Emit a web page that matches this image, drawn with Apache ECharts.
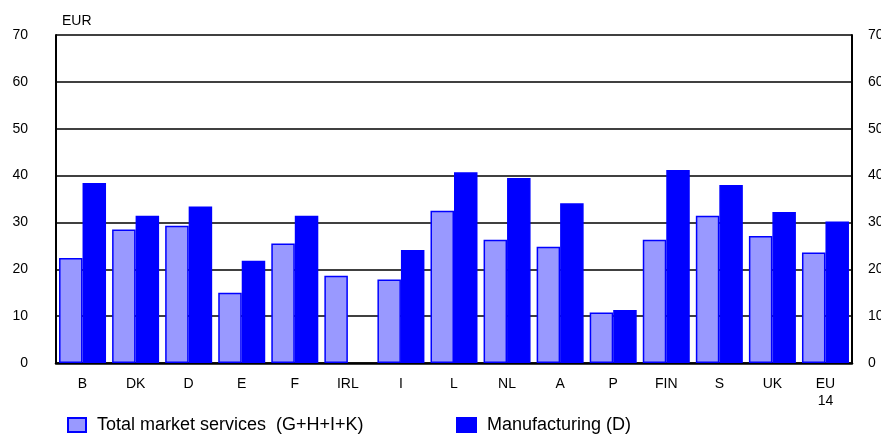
<!DOCTYPE html>
<html>
<head>
<meta charset="utf-8">
<script src="https://cdn.jsdelivr.net/npm/echarts@6/dist/echarts.min.js"></script>
<style>
  html, body { margin: 0; padding: 0; background: #fff; }
  #chart { width: 881px; height: 435px; }
</style>
</head>
<body>
<div id="chart"></div>
<script>
// Countries along the x axis
const countries = ['B', 'DK', 'D', 'E', 'F', 'IRL', 'I', 'L', 'NL', 'A', 'P', 'FIN', 'S', 'UK', 'EU\n14'];
// Labour cost per hour, EUR
const services = [22.4, 28.5, 29.3, 15.0, 25.5, 18.6, 17.8, 32.5, 26.3, 24.8, 10.8, 26.3, 31.4, 27.1, 23.6];
const manufacturing = [38.4, 31.4, 33.4, 21.8, 31.4, null, 24.1, 40.7, 39.5, 34.1, 11.3, 41.2, 38.0, 32.2, 30.2];
// Value axis ticks
const yTicks = [0, 10, 20, 30, 40, 50, 60, 70];

const seriesNames = ['Total market services  (G+H+I+K)', 'Manufacturing (D)'];
const font = 'Liberation Sans, Arial, sans-serif';

const chart = echarts.init(document.getElementById('chart'), null, { renderer: 'canvas' });

const valueAxis = (pos) => ({
  type: 'value',
  position: pos,
  min: yTicks[0],
  max: yTicks[yTicks.length - 1],
  interval: 10,
  axisLine: { show: true, lineStyle: { color: '#000', width: 2 } },
  axisTick: { show: false },
  axisLabel: {
    color: '#000', fontFamily: font, fontSize: 14,
    margin: pos === 'left' ? 28 : 16,
    align: pos === 'left' ? 'right' : 'left'
  },
  splitLine: { show: pos === 'left', lineStyle: { color: '#000', width: 1.5 } }
});

const legendText = { fontFamily: font, fontSize: 18, color: '#000', padding: [0, 0, 0, 6] };

chart.setOption({
  animation: false,
  backgroundColor: '#fff',
  // fixed plot rectangle; the right-hand tick labels are allowed to run off the edge
  grid: { left: 56, right: 29, top: 35, bottom: 72, outerBoundsMode: 'none', containLabel: false },
  title: {
    text: 'EUR', left: 57, top: 9,
    textStyle: { fontFamily: font, fontSize: 14, fontWeight: 'normal', color: '#000' }
  },
  legend: [
    {
      data: [{ name: seriesNames[0], icon: 'rect' }], left: 62, top: 411,
      itemWidth: 18, itemHeight: 14, itemGap: 0, textStyle: legendText
    },
    {
      data: [{ name: seriesNames[1], icon: 'rect' }], left: 451, top: 411,
      itemWidth: 19, itemHeight: 14, itemGap: 0, textStyle: legendText
    }
  ],
  xAxis: {
    type: 'category',
    data: countries,
    axisLine: { show: true, lineStyle: { color: '#000', width: 2.5 } },
    axisTick: { show: false },
    axisLabel: { color: '#000', fontFamily: font, fontSize: 14, margin: 13, lineHeight: 17, interval: 0 }
  },
  yAxis: [valueAxis('left'), valueAxis('right')],
  series: [
    {
      name: seriesNames[0], type: 'bar', data: services, barWidth: 23.5, barGap: '0%',
      itemStyle: { color: '#9999ff', borderColor: '#0000ff', borderWidth: 1.5 }
    },
    {
      name: seriesNames[1], type: 'bar', data: manufacturing, barWidth: 23.5, barGap: '0%',
      itemStyle: { color: '#0000ff', borderColor: '#0000ff', borderWidth: 1.5 }
    }
  ]
});
</script>
</body>
</html>
